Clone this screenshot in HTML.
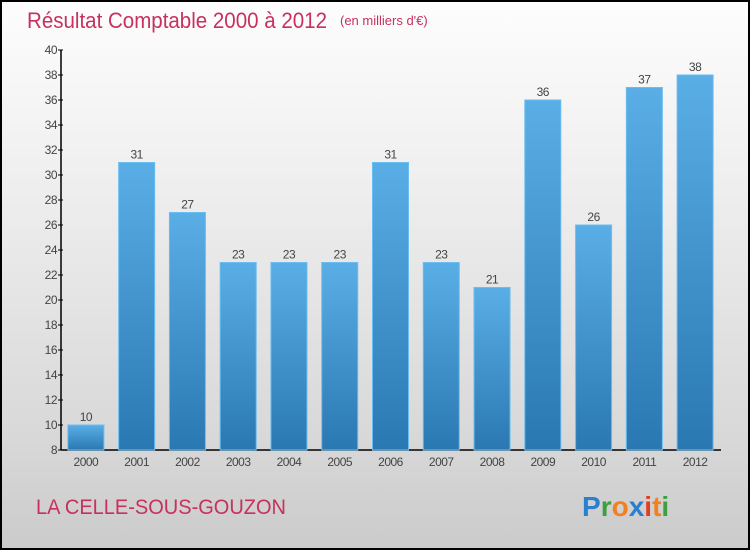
<!DOCTYPE html>
<html><head><meta charset="utf-8"><style>
html,body{margin:0;padding:0;}
body{width:750px;height:550px;overflow:hidden;font-family:"Liberation Sans",sans-serif;}
#frame{position:absolute;left:0;top:0;width:746px;height:546px;border:2px solid #000;background:linear-gradient(#fdfdfd,#f0f0f0 30%,#d8d8d8 80%,#cbcbcb);}
</style></head><body>
<div id="frame"></div>
<svg width="750" height="550" style="position:absolute;left:0;top:0">
<defs>
<linearGradient id="bg" x1="0" y1="0" x2="0" y2="1"><stop offset="0" stop-color="#5aaee6"/><stop offset="1" stop-color="#2a78b2"/></linearGradient>
</defs>
<text x="27" y="28" font-size="22" fill="#c8305e" textLength="300" lengthAdjust="spacingAndGlyphs">Résultat Comptable 2000 à 2012</text>
<text x="340" y="25" font-size="13" fill="#c8305e">(en milliers d'€)</text>
<g id="axes"></g>
<g id="bars"></g>
<text x="36" y="514" font-size="21" fill="#c8305e" textLength="250" lengthAdjust="spacingAndGlyphs">LA CELLE-SOUS-GOUZON</text>
<text x="582" y="516" font-size="28" font-weight="bold"><tspan fill="#2a7fd0">P</tspan><tspan fill="#3aa040">r</tspan><tspan fill="#f08020">o</tspan><tspan fill="#2a7fd0">x</tspan><tspan fill="#e04020">i</tspan><tspan fill="#f08020">t</tspan><tspan fill="#3aa040">i</tspan></text>
</svg>
<script>
const categories=["2000","2001","2002","2003","2004","2005","2006","2007","2008","2009","2010","2011","2012"];
const values=[10,31,27,23,23,23,31,23,21,36,26,37,38];
const yTicks=[8,10,12,14,16,18,20,22,24,26,28,30,32,34,36,38,40];
const NS="http://www.w3.org/2000/svg";
const yMin=8,yMax=40,pTop=50,pBot=450,pLeft=61,pRight=721;
function yScale(v){return pBot-(v-yMin)/(yMax-yMin)*(pBot-pTop);}
const step=(pRight-pLeft)/categories.length;
function xCenter(i){return pLeft+step*(i+0.5)-0.5;}
function mk(t,a,p){const e=document.createElementNS(NS,t);for(const k in a)e.setAttribute(k,a[k]);p.appendChild(e);return e;}
const ax=document.getElementById('axes'),bg=document.getElementById('bars');
const yl=mk('line',{x1:pLeft,y1:pTop,x2:pLeft,y2:pBot,stroke:'#000','stroke-width':1.5},ax);


const xl=mk('line',{x1:pLeft,y1:pBot,x2:pRight,y2:pBot,stroke:'#000','stroke-width':1.5},ax);


yTicks.forEach(v=>{
 const y=yScale(v);
 mk('line',{x1:pLeft-3,y1:y,x2:pLeft+2,y2:y,stroke:'#000'},ax);
 const t=mk('text',{x:pLeft-4,y:y+4,'text-anchor':'end','font-size':12,fill:'#444','letter-spacing':'-0.5'},ax);
 t.textContent=v;
 
 
});
const bw=36;
categories.forEach((c,i)=>{
 const cx=xCenter(i),y=yScale(values[i]);
 const r=mk('rect',{x:cx-bw/2,y:y,width:bw,height:pBot-y,fill:'url(#bg)',stroke:'#6bbcf0','stroke-width':1},bg);
 
 
 const vl=mk('text',{x:cx,y:y-4,'text-anchor':'middle','font-size':12,fill:'#444','letter-spacing':'-0.5'},bg);
 vl.textContent=values[i];
 
 
 const xt=mk('text',{x:cx,y:pBot+16,'text-anchor':'middle','font-size':12,fill:'#444','letter-spacing':'-0.5'},bg);
 xt.textContent=c;
 
 
});
</script>
</body></html>
